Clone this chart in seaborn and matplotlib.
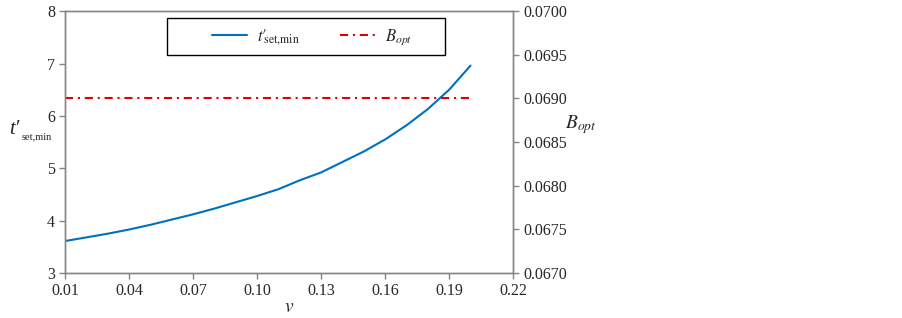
import numpy as np
import pandas as pd
import matplotlib
matplotlib.use("Agg")
import matplotlib.pyplot as plt
from matplotlib.patches import Rectangle
import seaborn as sns

# data
v_values = [0.01, 0.02, 0.03, 0.04, 0.05, 0.06, 0.07, 0.08, 0.09, 0.10,
            0.11, 0.12, 0.13, 0.14, 0.15, 0.16, 0.17, 0.18, 0.19, 0.20]
t_set_min = [3.61, 3.68, 3.75, 3.83, 3.92, 4.02, 4.12, 4.23, 4.35, 4.47,
             4.60, 4.77, 4.92, 5.12, 5.32, 5.55, 5.82, 6.13, 6.50, 6.96]
b_opt = [0.0690] * len(v_values)

x_ticks = [0.01, 0.04, 0.07, 0.10, 0.13, 0.16, 0.19, 0.22]
left_ticks = [3, 4, 5, 6, 7, 8]
right_ticks = [0.0670, 0.0675, 0.0680, 0.0685, 0.0690, 0.0695, 0.0700]

df = pd.DataFrame({"v": v_values, "t": t_set_min, "B": b_opt})

sns.set_style("white")
plt.rcParams["font.family"] = ["Liberation Serif", "DejaVu Serif"]
plt.rcParams["mathtext.fontset"] = "stix"

fig = plt.figure(figsize=(9.02, 3.18), dpi=100)
ax = fig.add_axes([0.072, 0.1415, 0.497, 0.8235])
ax2 = ax.twinx()

blue = "#0070c0"
red = "#e00000"

sns.lineplot(data=df, x="v", y="t", ax=ax, color=blue, linewidth=1.5)
sns.lineplot(data=df, x="v", y="B", ax=ax2, color=red, linewidth=1.5)
ax2.lines[0].set_linestyle((0, (3.9, 2.3, 1, 2.3)))

ax.set_xlim(0.01, 0.22)
ax.set_ylim(3, 8)
ax2.set_ylim(0.0670, 0.0700)
ax.set_xticks(x_ticks)
ax.set_xticklabels([f"{t:.2f}" for t in x_ticks])
ax.set_yticks(left_ticks)
ax2.set_yticks(right_ticks)
ax2.set_yticklabels([f"{t:.4f}" for t in right_ticks])

for a in (ax, ax2):
    for s in a.spines.values():
        s.set_color("#868686")
        s.set_linewidth(1.0)
    a.tick_params(axis="both", labelsize=11.5, length=4, color="#868686",
                  direction="out", width=1, pad=3)
ax.tick_params(left=True, bottom=True)
ax2.tick_params(right=True)

ax.set_xlabel(r"$v$", fontsize=14)
ax.xaxis.set_label_coords(0.5, -0.10)
ax.set_ylabel("")
ax2.set_ylabel(r"$B_{opt}$", fontsize=14, rotation=0, ha="center", va="center")
ax2.yaxis.set_label_coords(1.15, 0.565)

# left axis title: t' with a small subscript
fig.text(9 / 902, (318 - 134) / 318, "t′", fontsize=15, style="italic",
         va="baseline", ha="left")
fig.text(22 / 902, (318 - 139) / 318, "set,min", fontsize=7.5,
         va="baseline", ha="left")

# legend box like the reference (wide frame, content centred)
ax.add_patch(Rectangle((0.228, 0.832), 0.62, 0.141, transform=ax.transAxes,
                       fill=False, edgecolor="black", linewidth=1.0,
                       zorder=5, clip_on=False))
handles = [ax.lines[0], ax2.lines[0]]
labels = [r"$t′_{\!\!\mathrm{set{,}min}}$", r"$B_{opt}$"]
leg = ax.legend(handles, labels, loc="center left", ncol=2,
                bbox_to_anchor=(0.328, 0.902), fontsize=12, frameon=False,
                borderpad=0, borderaxespad=0, columnspacing=2.4,
                handlelength=2.1, handletextpad=0.6)

fig.savefig("out.png", dpi=100)
